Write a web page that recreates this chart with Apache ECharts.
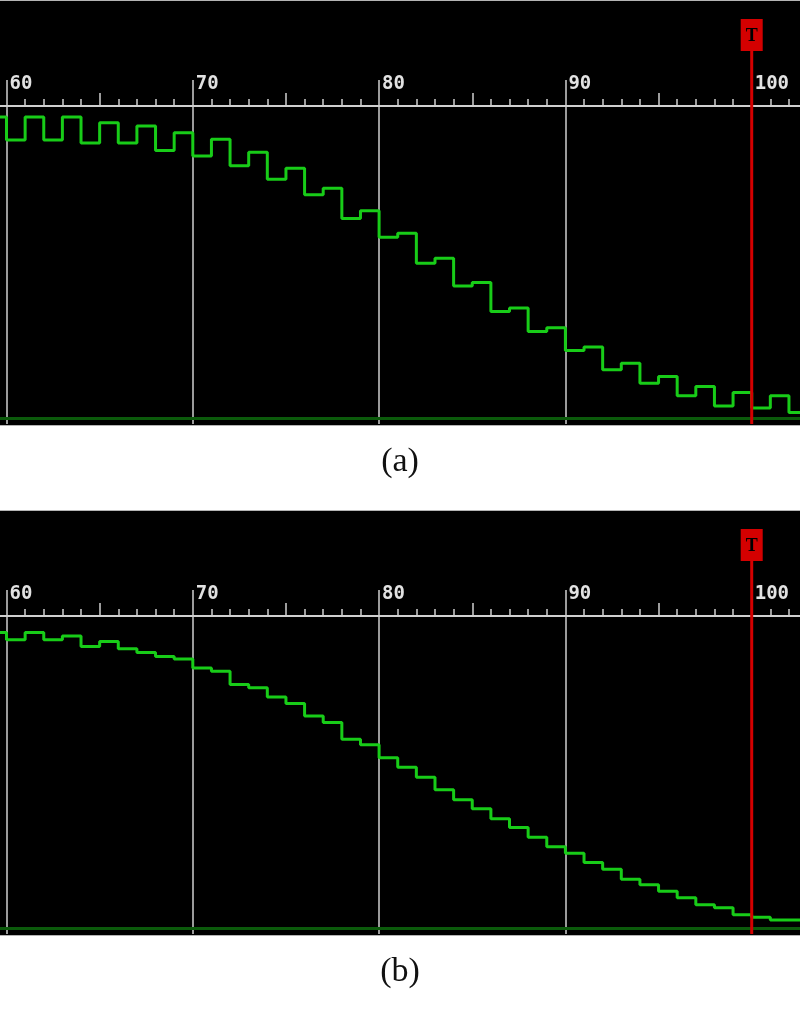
<!DOCTYPE html>
<html>
<head>
<meta charset="utf-8">
<script src="https://cdn.jsdelivr.net/npm/echarts@6/dist/echarts.min.js"></script>
<style>
  body { margin: 0; background: #fff; }
  .wrap { position: absolute; left: 0; width: 800px; height: 510px; }
  .scope { position: absolute; left: 0; top: 0; width: 800px; height: 426px; background: #000;
    border-top: 1px solid #b4b4b4; border-bottom: 1px solid #b4b4b4; box-sizing: border-box; }
  .chart { position: absolute; left: 0; top: 0; width: 800px; height: 510px; }
</style>
</head>
<body>
<div class="wrap" style="top:0">
  <div class="scope"></div>
  <div class="chart" id="chartA"></div>
</div>
<div class="wrap" style="top:510px">
  <div class="scope"></div>
  <div class="chart" id="chartB"></div>
</div>
<script>
// left edge of every one-unit step (the last one only closes the trace)
var stepStart = [59, 60, 61, 62, 63, 64, 65, 66, 67, 68, 69, 70, 71, 72, 73, 74, 75, 76, 77, 78, 79,
  80, 81, 82, 83, 84, 85, 86, 87, 88, 89, 90, 91, 92, 93, 94, 95, 96, 97, 98, 99, 100, 101, 102, 103];

// trace level, % of the height between baseline and the scale line
var levelA = [96.5, 89.1, 96.5, 89.1, 96.5, 88.1, 94.6, 88.1, 93.6, 85.7, 91.4, 84.0, 89.3, 80.8, 85.2,
  76.5, 80.0, 71.5, 73.6, 63.9, 66.4, 57.9, 59.2, 49.6, 51.2, 42.3, 43.4, 34.1, 35.2, 27.7, 28.9,
  21.6, 22.7, 15.4, 17.5, 11.1, 13.2, 7.1, 10.0, 3.8, 8.1, 3.1, 7.1, 1.7, 1.7];
var levelB = [94.7, 92.4, 94.7, 92.4, 93.6, 90.2, 91.8, 89.5, 88.3, 87.0, 86.2, 83.3, 82.3, 78.0, 77.0,
  74.0, 71.9, 67.9, 65.8, 60.5, 58.7, 54.5, 51.5, 48.3, 44.3, 41.1, 38.2, 35.0, 32.2, 29.0, 26.0,
  23.9, 20.9, 18.8, 15.6, 13.8, 11.7, 9.6, 7.4, 6.4, 4.2, 3.4, 2.5, 2.5, 2.5];

var triggerAt = [100];
var captions = ['(a)', '(b)'];

var GRAY = '#cfcfcf';

function drawPanel(dom, levels, caption) {
  var chart = echarts.init(dom, null, {renderer: 'canvas'});
  var data = [];
  for (var i = 0; i < stepStart.length; i++) {
    data.push([stepStart[i], levels[i]]);
  }

  // scale runs 50..110 so ticks land on whole numbers; the grid overhangs the canvas.
  // two identical grids: one carries the 1/5 ticks, the other the 10s with labels
  var box = {left: -179.8, right: -138, top: 106, height: 318, outerBoundsMode: 'none'};
  var option = {
    animation: false,
    title: {
      text: caption,
      left: 'center',
      top: 440,
      textStyle: {fontFamily: 'Liberation Serif', fontSize: 34, fontWeight: 'normal', color: '#111'}
    },
    grid: [box, box],
    xAxis: [{
      gridIndex: 0, type: 'value', position: 'top', min: 50, max: 110, interval: 5,
      axisLine: {show: true, onZero: false, lineStyle: {color: GRAY, width: 2}},
      axisTick: {show: true, length: 13, lineStyle: {color: GRAY, width: 1.5}},
      minorTick: {show: true, splitNumber: 5, length: 7, lineStyle: {color: GRAY, width: 1.5}},
      axisLabel: {show: false},
      splitLine: {show: false}
    }, {
      gridIndex: 1, type: 'value', position: 'top', min: 50, max: 110, interval: 10,
      axisLine: {show: false, onZero: false},
      axisTick: {show: true, length: 26, lineStyle: {color: GRAY, width: 1.5}},
      axisLabel: {
        show: true, align: 'left', margin: 12, padding: [0, 0, 0, 3],
        color: '#e2e2e2', fontFamily: 'DejaVu Sans Mono', fontWeight: 'bold', fontSize: 19
      },
      splitLine: {show: true, lineStyle: {color: GRAY, width: 1.5}}
    }],
    yAxis: [
      {gridIndex: 0, type: 'value', min: -2, max: 100, show: false},
      {gridIndex: 1, type: 'value', min: -2, max: 100, show: false}
    ],
    series: [{
      type: 'line',
      step: 'end',
      xAxisIndex: 0,
      yAxisIndex: 0,
      data: data,
      symbol: 'none',
      z: 5,
      lineStyle: {color: '#18cc18', width: 3},
      markLine: {
        silent: true,
        symbol: 'none',
        label: {show: false},
        lineStyle: {color: '#0b5a0b', width: 3, type: 'solid'},
        data: [{yAxis: 0}]
      }
    }, {
      // trigger marker
      type: 'custom',
      xAxisIndex: 0,
      yAxisIndex: 0,
      clip: false,
      z: 10,
      data: triggerAt.map(function(v) { return [v]; }),
      renderItem: function(params, api) {
        var top = api.coord([api.value(0), 100]);
        var bot = api.coord([api.value(0), -2]);
        var x = top[0];
        return {
          type: 'group',
          children: [{
            type: 'line',
            shape: {x1: x, y1: top[1] - 56, x2: x, y2: bot[1]},
            style: {stroke: '#d40000', lineWidth: 3}
          }, {
            type: 'rect',
            shape: {x: x - 11, y: top[1] - 87, width: 22, height: 32},
            style: {fill: '#d40000'}
          }, {
            type: 'text',
            style: {
              text: 'T', x: x, y: top[1] - 70, align: 'center', verticalAlign: 'middle',
              fill: '#000', font: 'bold 18px "Liberation Serif"'
            }
          }]
        };
      }
    }]
  };
  chart.setOption(option);
  return chart;
}

drawPanel(document.getElementById('chartA'), levelA, captions[0]);
drawPanel(document.getElementById('chartB'), levelB, captions[1]);
</script>
</body>
</html>
